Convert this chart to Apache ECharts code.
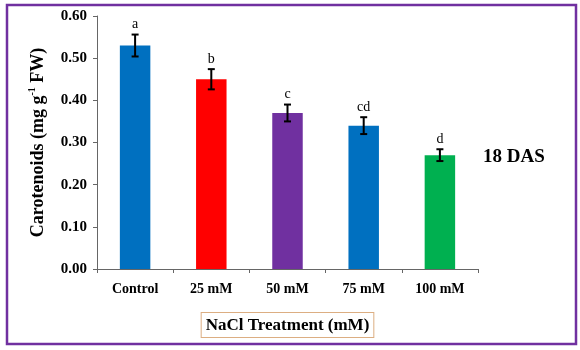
<!DOCTYPE html>
<html lang="en">
<head>
    <meta charset="UTF-8">
    <title>Carotenoids 18 DAS</title>
    <script src="https://cdn.jsdelivr.net/npm/echarts@6/dist/echarts.min.js"></script>
    <style>
        html, body { margin: 0; padding: 0; background: #fff; }
    </style>
</head>
<body>
    <div id="main" style="width: 580px; height: 350px"></div>
    <script>
        var myEcharts = echarts.init(document.getElementById('main'))

        // data
        var categories = ['Control', '25 mM', '50 mM', '75 mM', '100 mM']
        var values = [0.53, 0.45, 0.37, 0.34, 0.27]
        var errors = [0.026, 0.024, 0.02, 0.02, 0.014]
        var letters = ['a', 'b', 'c', 'cd', 'd']
        var barColors = ['#0070c0', '#ff0000', '#7030a0', '#0070c0', '#00b050']
        var yTicks = [0, 0.1, 0.2, 0.3, 0.4, 0.5, 0.6]

        var serif = '"Liberation Serif", "DejaVu Serif", serif'

        var errData = values.map(function (v, i) {
            return [i, v - errors[i], v + errors[i], letters[i]]
        })

        var option = {
            animation: false,
            backgroundColor: '#fff',
            grid: {
                left: 97,
                top: 16,
                right: 102,
                bottom: 81
            },
            graphic: [
                {
                    // purple frame round the figure
                    type: 'rect',
                    shape: { x: 7, y: 5, width: 569, height: 339 },
                    style: { fill: 'none', stroke: '#7030a0', lineWidth: 2.5 }
                },
                {
                    type: 'text',
                    left: 483,
                    top: 148,
                    style: {
                        text: '18 DAS',
                        font: 'bold 19px ' + serif,
                        fill: '#000'
                    }
                }
            ],
            xAxis: {
                type: 'category',
                data: categories,
                axisLine: { lineStyle: { color: '#666', width: 1 } },
                axisTick: { show: true, length: 4, alignWithLabel: false, lineStyle: { color: '#666' } },
                axisLabel: {
                    margin: 13,
                    color: '#000',
                    fontFamily: serif,
                    fontWeight: 'bold',
                    fontSize: 14
                },
                name: 'NaCl Treatment (mM)',
                nameLocation: 'middle',
                nameGap: 44,
                nameTextStyle: {
                    color: '#000',
                    fontFamily: serif,
                    fontWeight: 'bold',
                    fontSize: 17,
                    borderColor: '#dcae82',
                    borderWidth: 1,
                    padding: [4, 4, 3, 4],
                    backgroundColor: '#fff'
                }
            },
            yAxis: {
                type: 'value',
                min: yTicks[0],
                max: yTicks[yTicks.length - 1],
                interval: 0.1,
                splitLine: { show: false },
                axisLine: { show: true, lineStyle: { color: '#666', width: 1 } },
                axisTick: { show: true, length: 4, lineStyle: { color: '#666' } },
                axisLabel: {
                    margin: 10,
                    color: '#000',
                    fontFamily: serif,
                    fontWeight: 'bold',
                    fontSize: 15,
                    formatter: function (v) { return v.toFixed(2) }
                },
                name: '{t|Carotenoids (mg g}{s|-1}{t| FW)}',
                nameLocation: 'middle',
                nameRotate: 90,
                nameGap: 50,
                nameTextStyle: {
                    rich: {
                        t: { fontFamily: serif, fontWeight: 'bold', fontSize: 18, color: '#000', verticalAlign: 'bottom', lineHeight: 20 },
                        s: { fontFamily: serif, fontWeight: 'bold', fontSize: 10, color: '#000', verticalAlign: 'top', lineHeight: 20 }
                    }
                }
            },
            series: [
                {
                    type: 'bar',
                    barWidth: '40%',
                    data: values.map(function (v, i) {
                        return { value: v, itemStyle: { color: barColors[i] } }
                    })
                },
                {
                    type: 'custom',
                    data: errData,
                    z: 5,
                    renderItem: function (params, api) {
                        var x = api.coord([api.value(0), 0])[0]
                        var lo = api.coord([api.value(0), api.value(1)])[1]
                        var hi = api.coord([api.value(0), api.value(2)])[1]
                        var w = 3.5
                        var st = { stroke: '#000', lineWidth: 2 }
                        return {
                            type: 'group',
                            children: [
                                { type: 'line', shape: { x1: x, y1: hi, x2: x, y2: lo }, style: st },
                                { type: 'line', shape: { x1: x - w, y1: hi, x2: x + w, y2: hi }, style: st },
                                { type: 'line', shape: { x1: x - w, y1: lo, x2: x + w, y2: lo }, style: st },
                                {
                                    type: 'text',
                                    x: x,
                                    y: hi - 3,
                                    style: {
                                        text: letters[params.dataIndex],
                                        font: '14px ' + serif,
                                        fill: '#000',
                                        align: 'center',
                                        verticalAlign: 'bottom'
                                    }
                                }
                            ]
                        }
                    }
                }
            ]
        }

        myEcharts.setOption(option)
    </script>
</body>
</html>
